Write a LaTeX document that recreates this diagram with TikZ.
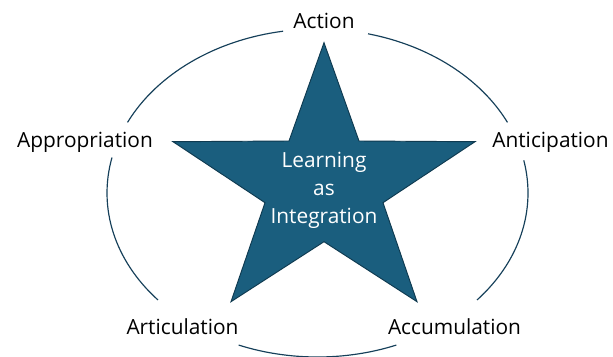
\documentclass[tikz,border=0pt]{standalone}
\usepackage{fontspec}
\setmainfont{Open Sans}
\definecolor{starblue}{HTML}{1A5E7E}
\definecolor{stardark}{HTML}{0F3A50}
\definecolor{ringblue}{HTML}{16405A}
\begin{document}
\begin{tikzpicture}[x=0.03cm,y=0.03cm,
  lbl/.style={font=\fontsize{17.8}{23.9}\selectfont, anchor=base, inner sep=0pt},
  ring/.style={draw=ringblue, line width=1pt},
  starshape/.style={fill=starblue, draw=stardark, line width=0.8pt, line join=miter}]
  \useasboundingbox (0,0) rectangle (613,356);
  \coordinate (O) at (317.5,163);

  % star
  \coordinate (T) at (324,313.3);
  \coordinate (TR) at (359,215);
  \coordinate (R) at (475,214.3);
  \coordinate (LR) at (383,153.3);
  \coordinate (BR) at (417,54.3);
  \coordinate (B) at (324,114.3);
  \coordinate (BL) at (231,54.3);
  \coordinate (LL) at (265,153.3);
  \coordinate (L) at (173,214.3);
  \coordinate (TL) at (289,215);
  \draw[starshape] (T) -- (TR) -- (R) -- (LR) -- (BR) -- (B) -- (BL) -- (LL) -- (L) -- (TL) -- cycle;

  % ring, broken behind the labels
  \foreach \a/\b in {99.4/154.5, 167.5/220.7, 248/292, 319.3/371.5, 25.5/76.1}
    \draw[ring] (O) ++(\a:210.5 and 164) arc[start angle=\a, end angle=\b, x radius=210.5, y radius=164];

  \node[lbl] (Act) at (324,327.7) {Action};
  \node[lbl] (App) at (85,208) {Appropriation};
  \node[lbl] (Ant) at (550.5,208) {Anticipation};
  \node[lbl] (Art) at (182.5,22) {Articulation};
  \node[lbl] (Acc) at (454.5,22) {Accumulation};
  \node[lbl, text=white, align=center] (Lrn) at (324,133) {Learning\\as\\Integration};
\end{tikzpicture}
\end{document}
